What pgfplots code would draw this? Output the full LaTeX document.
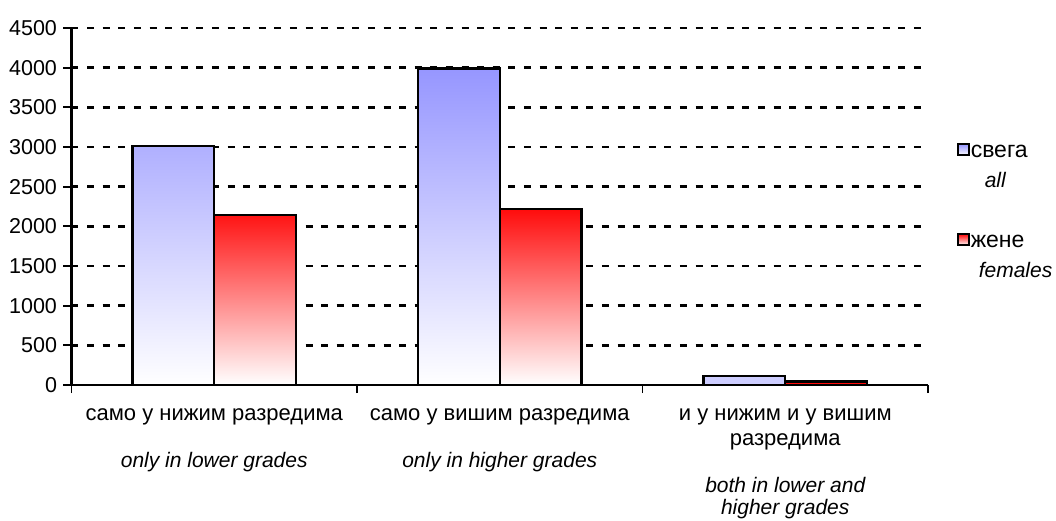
\documentclass[border=0pt]{standalone}
\usepackage{fontspec}
\setmainfont{Liberation Sans}
\usepackage{pgfplots}
\pgfplotsset{compat=1.18}
\definecolor{barblue}{RGB}{150,150,255}
\definecolor{barred}{RGB}{255,12,12}
\definecolor{smallblue}{RGB}{205,205,255}
\newcommand{\en}[1]{{\fontsize{21}{22}\selectfont\itshape #1}}
\begin{document}
\begin{tikzpicture}
\useasboundingbox (-71.5pt,-136pt) rectangle (984.5pt,385pt);
\begin{axis}[
  scale only axis, width=856.5pt, height=357pt,
  xmin=-0.5, xmax=2.5, ymin=0, ymax=4500,
  clip=false,
  axis x line*=bottom, axis y line*=left,
  x axis line style={line width=1.6pt, black},
  y axis line style={line width=2.2pt, black},
  ytick={500,1000,...,4500},
  extra y ticks={0}, extra y tick style={grid=none},
  ymajorgrids,
  grid style={black, line width=2.6pt, dash pattern=on 7pt off 8.6pt},
  tick align=outside, major tick length=8pt,
  ytick style={line width=2pt, black},
  xtick={0,1,2}, xtick style={draw=none},
  extra x ticks={-0.5,0.5,1.5,2.5}, extra x tick labels={},
  extra x tick style={xtick style={draw=black, line width=1.6pt}},
  xticklabels={{само у нижим разредима\\[25pt]\en{only in lower grades}},
               {само у вишим разредима\\[25pt]\en{only in higher grades}},
               {и у нижим и у вишим\\[3pt]разредима\\[25pt]\en{both in lower and}\\\en{higher grades}}},
  xticklabel style={align=center, font=\fontsize{22}{22}\selectfont, yshift=-12pt},
  yticklabel style={font=\fontsize{21.5}{24}\selectfont, xshift=-3pt},
  /pgf/number format/assume math mode=true,
  /pgf/number format/1000 sep={},
  scaled y ticks=false,
  legend image code/.code={\draw[#1, line width=2pt] (0pt,-5.5pt) rectangle (11pt,5.5pt);},
  legend cell align=left,
  legend style={draw=none, fill=none, inner sep=0pt, row sep=9pt,
    at={(axis cs:2.6,3100)}, anchor=north west,
    font=\fontsize{21}{25}\selectfont,
    nodes={inner sep=1pt}},
]
\addplot[ybar, bar shift=0pt, bar width=0.287, draw=black, line width=2.4pt,
  top color=barblue, bottom color=white]
  coordinates {(-0.1435,3015) (0.8565,3990)};
\addlegendentry{\strut{\fontsize{23}{25}\selectfont свега}}
\addlegendimage{empty legend}
\addlegendentry{\strut\hspace{14pt}\textit{all}}
\addlegendimage{empty legend}
\addlegendentry{\strut}
\addplot[ybar, bar shift=0pt, bar width=0.287, draw=black, line width=2.4pt,
  top color=barred, bottom color=white]
  coordinates {(0.1435,2142) (1.1435,2218)};
\addlegendentry{\strut{\fontsize{23}{25}\selectfont жене}}
\addlegendimage{empty legend}
\addlegendentry{\strut\hspace{8pt}\textit{females}}
\addplot[ybar, bar shift=0pt, bar width=0.287, draw=black, line width=2.4pt,
  fill=smallblue, forget plot]
  coordinates {(1.8565,110)};
\addplot[ybar, bar shift=0pt, bar width=0.287, draw=black, line width=2.4pt,
  fill=barred, forget plot]
  coordinates {(2.1435,45)};
\end{axis}
\end{tikzpicture}
\end{document}
